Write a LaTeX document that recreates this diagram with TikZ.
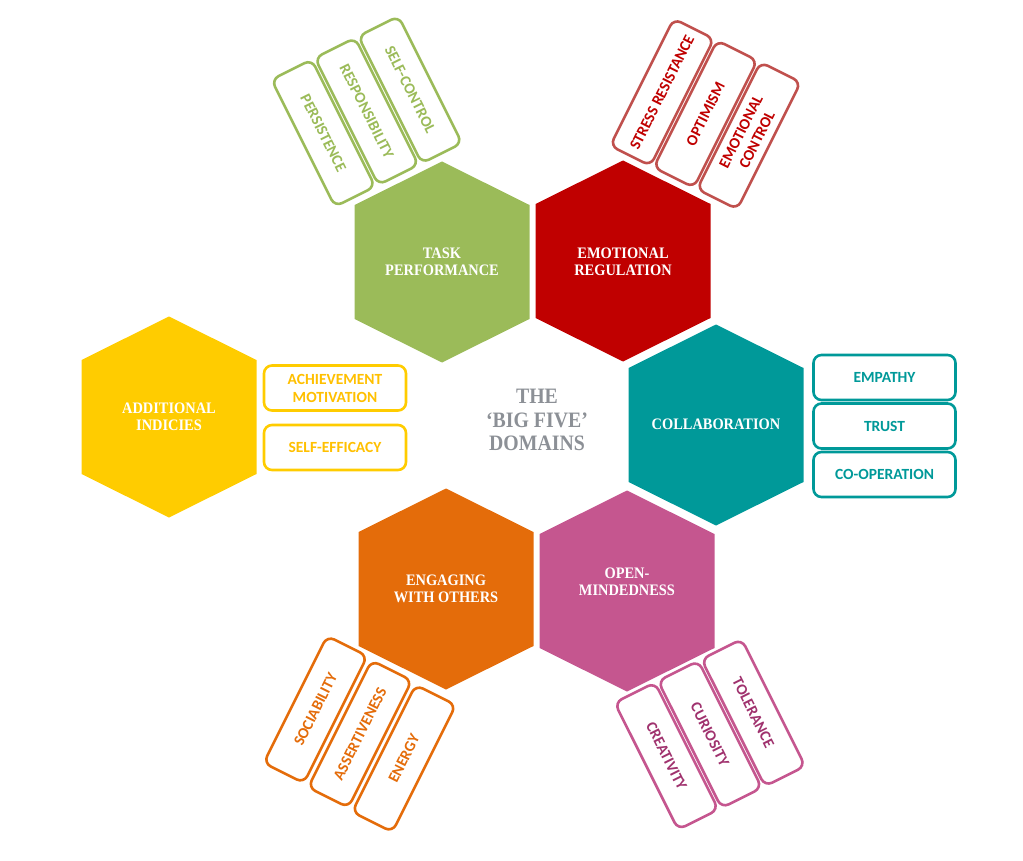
\documentclass[tikz,border=0pt]{standalone}
\usepackage{fontspec}
\newfontfamily\boxfont{Carlito}
\newfontfamily\hexfont[FakeStretch=0.9]{Liberation Serif}
\definecolor{tpgreen}{RGB}{155,187,89}
\definecolor{erred}{RGB}{192,0,0}
\definecolor{erline}{RGB}{192,80,77}
\definecolor{coteal}{RGB}{0,153,153}
\definecolor{ompink}{RGB}{197,86,143}
\definecolor{omtext}{RGB}{160,50,110}
\definecolor{eworange}{RGB}{228,108,10}
\definecolor{aiyellow}{RGB}{255,204,0}
\definecolor{aitext}{RGB}{255,192,0}
\definecolor{domgray}{RGB}{140,144,150}

\begin{document}
\begin{tikzpicture}[x=1pt, y=-1pt,
	hextext/.style={text=white, align=center, font=\hexfont\bfseries\fontsize{16}{17}\selectfont},
	item/.style={draw=#1, text=#1, fill=white, line width=2.6pt, rounded corners=8pt,
		minimum width=142pt, minimum height=45pt, inner sep=0pt, align=center,
		font=\boxfont\bfseries\fontsize{15.5}{18}\selectfont}]

	\useasboundingbox (0,0) rectangle (1023,861);%画布

	\foreach \x/\y/\c in {442/262/tpgreen, 623/261/erred, 716/425/coteal, 627/591/ompink, 446/589/eworange, 169/417/aiyellow}
	\fill[\c] (\x,\y) ++(0,-100.5) -- ++(87.5,43.5) -- ++(0,114) -- ++(-87.5,43.5) -- ++(-87.5,-43.5) -- ++(0,-114) -- cycle;%六边形

	\node[hextext] (tp) at (442,262) {TASK\\PERFORMANCE};
	\node[hextext] (er) at (623,262) {EMOTIONAL\\REGULATION};
	\node[hextext] (co) at (716,424) {COLLABORATION};
	\node[hextext] (om) at (627,582) {OPEN-\\MINDEDNESS};
	\node[hextext] (ew) at (446,589) {ENGAGING\\WITH OTHERS};
	\node[hextext] (ai) at (169,417) {ADDITIONAL\\INDICIES};
	\node[text=domgray, align=center, font=\hexfont\bfseries\fontsize{22}{23.5}\selectfont] (bf) at (537,420) {THE\\‘BIG FIVE’\\DOMAINS};%中心标题

	\node[item=tpgreen, rotate=-63.43] (sc) at (410.1,89.7) {SELF-CONTROL};%左上
	\node[item=tpgreen, rotate=-63.43] (rs) at (366.7,111.4) {RESPONSIBILITY};
	\node[item=tpgreen, rotate=-63.43] (ps) at (323.3,133.1) {PERSISTENCE};

	\node[item=erline, text=erred, rotate=63.43] (sr) at (662.1,92.3) {STRESS RESISTANCE};%右上
	\node[item=erline, text=erred, rotate=63.43] (op) at (705.5,114) {OPTIMISM};
	\node[item=erline, text=erred, rotate=63.43] (ec) at (748.9,135.7) {EMOTIONAL\\CONTROL};

	\node[item=coteal] (em) at (884.5,377.5) {EMPATHY};%右
	\node[item=coteal] (tr) at (884.5,426) {TRUST};
	\node[item=coteal] (cp) at (884.5,474.5) {CO-OPERATION};

	\node[item=ompink, text=omtext, rotate=-63.43] (tl) at (753.3,712.7) {TOLERANCE};%右下
	\node[item=ompink, text=omtext, rotate=-63.43] (cu) at (709.9,734.4) {CURIOSITY};
	\node[item=ompink, text=omtext, rotate=-63.43] (cr) at (666.5,756.1) {CREATIVITY};

	\node[item=eworange, rotate=63.43] (so) at (315.5,709.5) {SOCIABILITY};%左下
	\node[item=eworange, rotate=63.43] (as) at (360,734) {ASSERTIVENESS};
	\node[item=eworange, rotate=63.43] (en) at (404,758.5) {ENERGY};

	\node[item=aiyellow, text=aitext] (am) at (335,388) {ACHIEVEMENT\\MOTIVATION};%附加指标
	\node[item=aiyellow, text=aitext] (se) at (335,447.5) {SELF-EFFICACY};

\end{tikzpicture}
\end{document}
